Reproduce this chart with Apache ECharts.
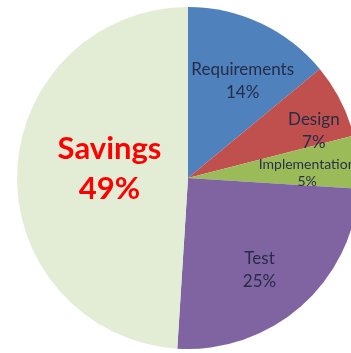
<!DOCTYPE html>
<html><head><meta charset="utf-8">
<script src="https://cdn.jsdelivr.net/npm/echarts@6/dist/echarts.min.js"></script>
<style>html,body{margin:0;padding:0;background:#fff}#c{width:351px;height:353px}</style>
</head><body><div id="c"></div>
<script>
const categories = ['Requirements', 'Design', 'Implementation', 'Test', 'Savings'];
const values = [14, 7, 5, 25, 49];
const colors = ['#4f81bd', '#c0504d', '#9bbb59', '#8064a2', '#e3edd6'];
const labelOffsets = [[17, -17], [47, -7], [31, 3], [13, 26], [10, -6]];

const chart = echarts.init(document.getElementById('c'), null, {renderer: 'canvas'});
const data = categories.map((n, i) => {
  const item = {name: n, value: values[i], itemStyle: {color: colors[i]}};
  if (n === 'Savings') {
    item.label = {formatter: '{s|{b}}\n{s|{d}%}', rich: {s: {color: '#ff0000', fontSize: 31, fontWeight: 'bold', lineHeight: 40, fontFamily: 'Lato'}}};
  } else if (n === 'Implementation') {
    item.label = {formatter: '{t|{b}}\n{t|{d}%}', rich: {t: {color: '#2a2f4a', fontSize: 14, lineHeight: 17, fontFamily: 'Lato'}}};
  }
  return item;
});
chart.setOption({
  animation: false,
  backgroundColor: '#ffffff',
  series: [{
    type: 'pie',
    center: [188, 178],
    radius: 171,
    startAngle: 90,
    clockwise: true,
    data: data,
    label: {
      position: 'inside',
      formatter: '{a|{b}}\n{a|{d}%}',
      rich: {a: {color: '#262c48', fontSize: 17, lineHeight: 23, fontFamily: 'Lato'}}
    },
    labelLine: {show: false},
    labelLayout: function (p) {
      const o = labelOffsets[p.dataIndex];
      return {dx: o[0], dy: o[1]};
    },
    itemStyle: {borderWidth: 0},
    emphasis: {disabled: true}
  }]
});
</script></body></html>
